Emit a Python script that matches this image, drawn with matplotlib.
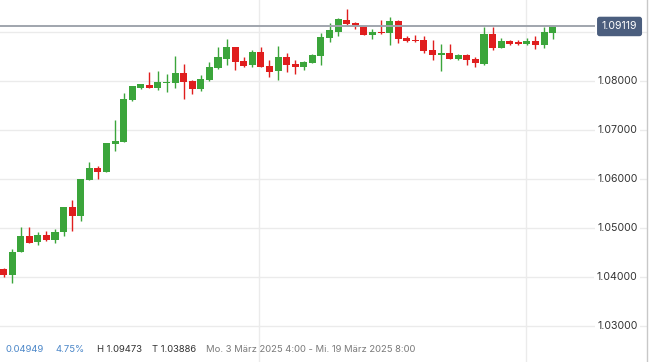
import matplotlib
matplotlib.use('Agg')
import matplotlib.pyplot as plt
import numpy as np

# 65 candles, 3 Mar 2025 4:00 - 19 Mar 2025 8:00
opens = [1.04170, 1.04053, 1.04516, 1.04843, 1.04720, 1.04863, 1.04761, 1.04918, 1.05435, 1.05251,
         1.05986, 1.06231, 1.06149, 1.06720, 1.06761, 1.07618, 1.07863, 1.07924, 1.07863, 1.07975,
         1.07965, 1.08169, 1.08006, 1.07843, 1.08027, 1.08271, 1.08455, 1.08700, 1.08414, 1.08333,
         1.08598, 1.08312, 1.08210, 1.08496, 1.08353, 1.08292, 1.08373, 1.08516, 1.08884, 1.09006,
         1.09251, 1.09190, 1.09129, 1.08945, 1.09006, 1.08986, 1.09231, 1.08884, 1.08843, 1.08843,
         1.08639, 1.08537, 1.08578, 1.08455, 1.08537, 1.08455, 1.08353, 1.08965, 1.08680, 1.08822,
         1.08802, 1.08761, 1.08822, 1.08741, 1.08986]
highs = [1.04196, 1.04578, 1.05027, 1.05027, 1.04925, 1.04945, 1.04986, 1.05435, 1.05578, 1.06006,
         1.06353, 1.06271, 1.06741, 1.07210, 1.07761, 1.07904, 1.07945, 1.08190, 1.08210, 1.08149,
         1.08516, 1.08353, 1.08027, 1.08129, 1.08394, 1.08700, 1.08863, 1.08700, 1.08496, 1.08639,
         1.08700, 1.08435, 1.08720, 1.08578, 1.08435, 1.08414, 1.08557, 1.08986, 1.09190, 1.09292,
         1.09473, 1.09210, 1.09129, 1.09067, 1.09251, 1.09312, 1.09251, 1.08924, 1.08945, 1.08924,
         1.08843, 1.08761, 1.08761, 1.08557, 1.08557, 1.08496, 1.09108, 1.09108, 1.08884, 1.08843,
         1.08843, 1.08884, 1.08924, 1.09108, 1.09129]
lows = [1.04006, 1.03886, 1.04516, 1.04706, 1.04659, 1.04741, 1.04700, 1.04843, 1.04945, 1.05149,
        1.05986, 1.06006, 1.06149, 1.06584, 1.06761, 1.07598, 1.07843, 1.07863, 1.07822, 1.07782,
        1.07863, 1.07639, 1.07741, 1.07802, 1.08006, 1.08251, 1.08333, 1.08231, 1.08292, 1.08292,
        1.08292, 1.08088, 1.08027, 1.08190, 1.08149, 1.08231, 1.08373, 1.08333, 1.08802, 1.08924,
        1.09149, 1.09067, 1.08945, 1.08863, 1.08965, 1.08741, 1.08782, 1.08802, 1.08802, 1.08578,
        1.08435, 1.08210, 1.08455, 1.08435, 1.08333, 1.08292, 1.08333, 1.08639, 1.08680, 1.08741,
        1.08741, 1.08741, 1.08659, 1.08680, 1.08863]
closes = [1.04053, 1.04516, 1.04843, 1.04706, 1.04863, 1.04761, 1.04925, 1.05435, 1.05251, 1.06006,
          1.06231, 1.06149, 1.06741, 1.06782, 1.07639, 1.07904, 1.07945, 1.07863, 1.07986, 1.07986,
          1.08169, 1.07986, 1.07843, 1.08047, 1.08292, 1.08496, 1.08700, 1.08394, 1.08312, 1.08598,
          1.08292, 1.08190, 1.08496, 1.08333, 1.08292, 1.08394, 1.08537, 1.08904, 1.09047, 1.09271,
          1.09169, 1.09108, 1.08945, 1.09006, 1.08986, 1.09231, 1.08863, 1.08822, 1.08822, 1.08618,
          1.08537, 1.08578, 1.08455, 1.08537, 1.08435, 1.08373, 1.08965, 1.08680, 1.08822, 1.08761,
          1.08761, 1.08822, 1.08741, 1.09006, 1.09119]

y_ticks = [1.03, 1.04, 1.05, 1.06, 1.07, 1.08, 1.09]
last_price = 1.09119
change_abs = "0.04949"
change_pct = "4.75%"
high_txt = "H 1.09473"
low_txt = "T 1.03886"
range_txt = "Mo. 3 März 2025 4:00 - Mi. 19 März 2025 8:00"
week_lines = [29.8, 60.9]  # candle index of the week separators

GREEN = '#3ba53b'
RED = '#e01e1e'
GRID = '#ebebeb'

plt.rcParams['font.family'] = ['Inter', 'DejaVu Sans']

fig = plt.figure(figsize=(6.5, 3.62), dpi=100)
ax = fig.add_axes([0, 0, 647 / 650, 1])
ax.set_xlim(-0.41, 75.0)
ax.set_ylim(1.02271, 1.09659)
ax.axis('off')

# grid
for t in y_ticks:
    ax.axhline(t, color=GRID, lw=1.0, zorder=0)
for w in week_lines:
    ax.axvline(w, color=GRID, lw=1.0, zorder=0)

o = np.array(opens)
h = np.array(highs)
l = np.array(lows)
c = np.array(closes)
x = np.arange(len(o))
colors = [GREEN if cc >= oo else RED for oo, cc in zip(o, c)]

ax.vlines(x, l, h, colors=colors, lw=1.0, zorder=2)
body = np.maximum(np.abs(c - o), 0.00018)
ax.bar(x, body, bottom=np.minimum(o, c), width=0.82, color=colors, lw=0, zorder=3)

# last price line
ax.plot([-0.41, 69.2], [last_price, last_price], color='#a0a5ad', lw=1.4, zorder=4)

# y labels on the right with white background (1.09000 sits under the price box)
for t in y_ticks:
    ax.text(73.9, t, f'{t:.5f}', ha='right', va='center', fontsize=7.6, color='#333333',
            bbox=dict(boxstyle='square,pad=0.25', fc='white', ec='none'), zorder=5)

ax.text(71.8, last_price, f'{last_price:.5f}', ha='center', va='center', fontsize=7.6,
        color='white', zorder=7,
        bbox=dict(boxstyle='round,pad=0.45,rounding_size=0.25', fc='#4b5e7e', ec='none'))

# right border
fig.add_artist(plt.Line2D([647 / 650, 647 / 650], [0, 1], color='#c8c8c8', lw=1.0))

# info row at the bottom
yb = 1 - 350 / 362
fs = 6.8
fig.text(5 / 650, yb, change_abs, fontsize=fs, color='#4a86c8', va='center')
fig.text(55 / 650, yb, change_pct, fontsize=fs, color='#4a86c8', va='center')
fig.text(97 / 650, yb, high_txt, fontsize=fs, color='#333333', va='center')
fig.text(152 / 650, yb, low_txt, fontsize=fs, color='#333333', va='center')
fig.text(206 / 650, yb, range_txt, fontsize=fs, color='#7a7a7a', va='center')

fig.savefig('out.png', dpi=100)
